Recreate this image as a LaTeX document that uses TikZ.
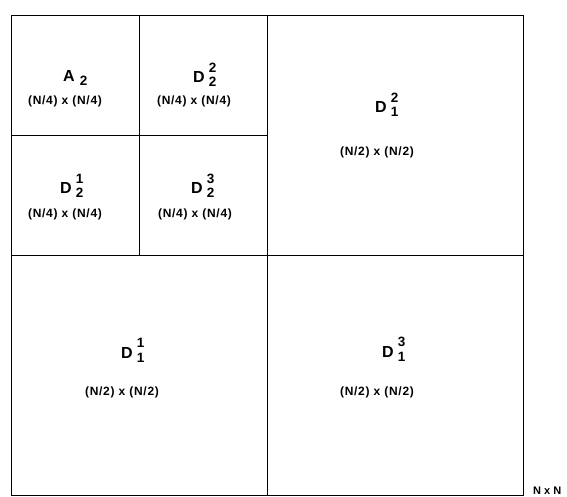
\documentclass[tikz,border=0pt]{standalone}
\usepackage{fontspec}
\setmainfont{Liberation Sans}
\newfontfamily\dimfont[LetterSpace=6]{Liberation Sans}
\usetikzlibrary{positioning}
\newcommand{\idx}{\fontsize{13.5}{14.5}\selectfont}
\newcommand{\blk}[3]{#1\hspace{4pt}\raisebox{-4pt}{\idx\begin{tabular}[b]{@{}c@{}}#2\\#3\end{tabular}}}
\tikzset{every node/.style={font=\bfseries\fontsize{16}{18}\selectfont,inner sep=0pt},
  line cap=round,line join=round,
  lab/.style={anchor=base west},
  dimtext/.style={font=\dimfont\bfseries\fontsize{12}{14}\selectfont}}

\begin{document}
\begin{tikzpicture}[x=1pt,y=1pt]
  \path[use as bounding box] (0,0) rectangle (567,496);
  \draw[line width=0.9pt] (11,1) rectangle (523,481);
  \draw[line width=0.9pt] (267,1)--(267,481) (11,241)--(523,241);
  \draw[line width=0.8pt] (139,241)--(139,481) (11,361)--(267,361);
  \node[lab] (a2) at (63,414) {A\hspace{5pt}\raisebox{-3.5pt}{\idx 2}};
  \node[dimtext] (a2d) at (65,395) {(N/4) x (N/4)};
  \node[lab] (d22) at (193,413) {\blk{D}{2}{2}};
  \node[dimtext] (d22d) at (194,395) {(N/4) x (N/4)};
  \node[lab] (d21) at (60,302) {\blk{D}{1}{2}};
  \node[dimtext] (d21d) at (65,282) {(N/4) x (N/4)};
  \node[lab] (d23) at (191,302) {\blk{D}{3}{2}};
  \node[dimtext] (d23d) at (195,282) {(N/4) x (N/4)};
  \node[lab] (d12) at (375,383) {\blk{D}{2}{1}};
  \node[dimtext] (d12d) at (377,344) {(N/2) x (N/2)};
  \node[lab] (d11) at (121,138) {\blk{D}{1}{1}};
  \node[dimtext] (d11d) at (122,104) {(N/2) x (N/2)};
  \node[lab] (d13) at (382,139) {\blk{D}{3}{1}};
  \node[dimtext] (d13d) at (377,104) {(N/2) x (N/2)};
  \node[anchor=base west,font=\bfseries\fontsize{11}{12}\selectfont] (size) at (533,2) {N x N};
\end{tikzpicture}
\end{document}
